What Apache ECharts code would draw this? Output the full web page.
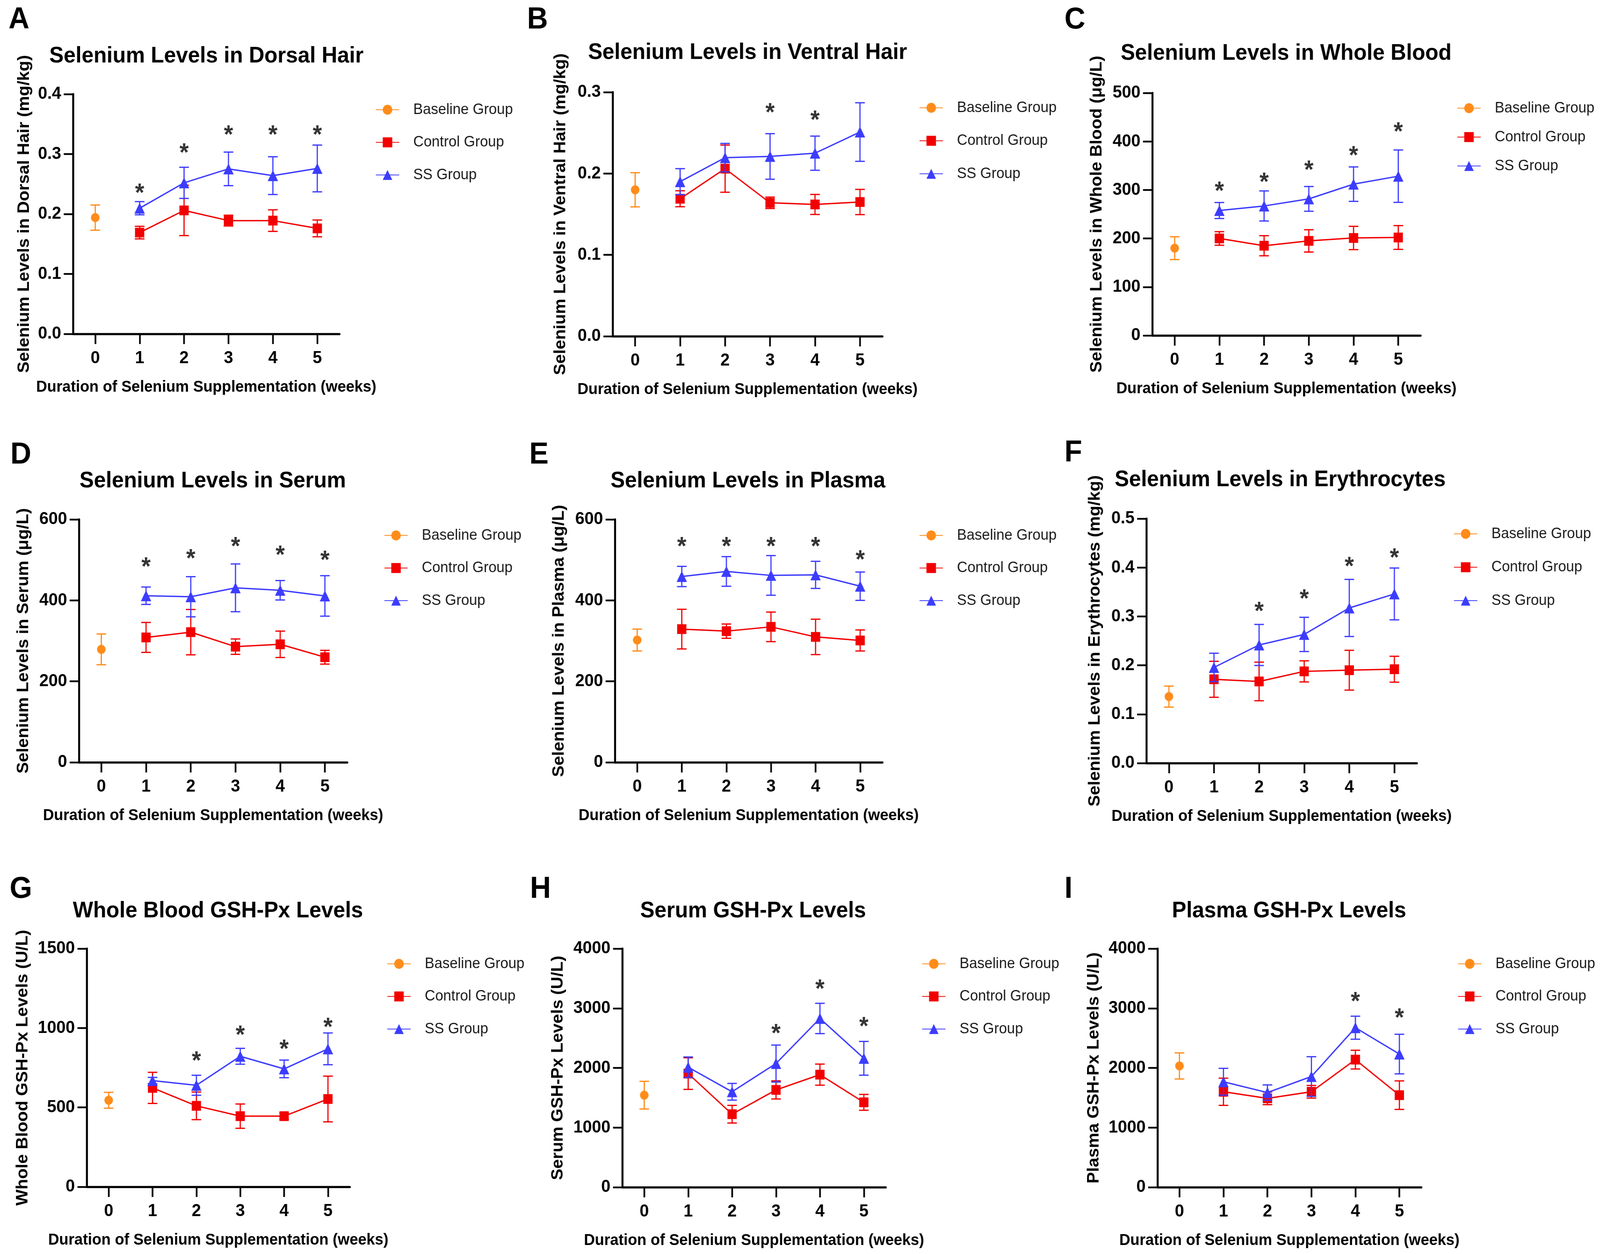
<!DOCTYPE html>
<html><head><meta charset="utf-8">
<script src="https://cdn.jsdelivr.net/npm/echarts@6/dist/echarts.min.js"></script>
<style>
html,body{margin:0;padding:0;background:#fff;overflow:hidden}
#c{width:4317px;height:3211px;transform-origin:0 0}
</style>
</head><body><div id="c"></div>
<script>
// ---------------- DATA ----------------
const weeks = ['0', '1', '2', '3', '4', '5'];
const groupNames = ['Baseline Group', 'Control Group', 'SS Group'];
const panelLetters = ['A', 'B', 'C', 'D', 'E', 'F', 'G', 'H', 'I'];
const panelTitles = [
  'Selenium Levels in Dorsal Hair', 'Selenium Levels in Ventral Hair', 'Selenium Levels in Whole Blood',
  'Selenium Levels in Serum', 'Selenium Levels in Plasma', 'Selenium Levels in Erythrocytes',
  'Whole Blood GSH-Px Levels', 'Serum GSH-Px Levels', 'Plasma GSH-Px Levels'
];
const yAxisTitles = [
  'Selenium Levels in Dorsal Hair (mg/kg)', 'Selenium Levels in Ventral Hair (mg/kg)', 'Selenium Levels in Whole Blood (μg/L)',
  'Selenium Levels in Serum (μg/L)', 'Selenium Levels in Plasma (μg/L)', 'Selenium Levels in Erythrocytes (mg/kg)',
  'Whole Blood GSH-Px Levels (U/L)', 'Serum GSH-Px Levels (U/L)', 'Plasma GSH-Px Levels (U/L)'
];
const xAxisTitle = 'Duration of Selenium Supplementation (weeks)';
const yMax = [0.4, 0.3, 500, 600, 600, 0.5, 1500, 4000, 4000];
const yStep = [0.1, 0.1, 100, 200, 200, 0.1, 500, 1000, 1000];
const yDecimals = [1, 1, 0, 0, 0, 1, 0, 0, 0];

const baselineMean = [0.194, 0.180, 180, 279, 302, 0.136, 545, 1543, 2033];
const baselineSD = [0.021, 0.021, 23.5, 38, 27, 0.0215, 50, 232, 219];

const controlMean = [
  [0.169, 0.206, 0.189, 0.189, 0.176],
  [0.169, 0.206, 0.164, 0.162, 0.165],
  [200, 185, 195, 201, 202],
  [308.5, 321.5, 285.7, 291.5, 259.6],
  [329, 324, 334.6, 309.8, 301],
  [0.1714, 0.167, 0.1876, 0.190, 0.192],
  [623, 510, 445, 445, 553],
  [1905, 1224, 1631, 1887, 1423],
  [1600, 1490, 1600, 2139, 1543]
];
const controlSD = [
  [0.0105, 0.042, 0.009, 0.018, 0.014],
  [0.0098, 0.029, 0.007, 0.0123, 0.0155],
  [14, 20.7, 23, 24, 24.5],
  [37, 56, 19, 32.6, 17],
  [49, 17.6, 36.5, 43.7, 26],
  [0.0368, 0.0395, 0.0216, 0.0407, 0.0265],
  [98, 87, 76.5, 20, 144],
  [265, 148, 152, 177, 133],
  [228, 106, 106, 157, 239]
];
const ssMean = [
  [0.2097, 0.252, 0.2753, 0.264, 0.276],
  [0.190, 0.2195, 0.221, 0.225, 0.251],
  [257.6, 267, 281.6, 312, 328.4],
  [411.5, 409, 431, 425, 411],
  [459, 471.5, 461.7, 463, 435],
  [0.1957, 0.2416, 0.2632, 0.3173, 0.346],
  [669, 639.5, 822, 742.5, 868.8],
  [2011, 1600, 2073, 2829, 2161],
  [1768, 1587, 1856, 2674, 2232]
];
const ssSD = [
  [0.011, 0.026, 0.028, 0.0315, 0.039],
  [0.016, 0.0175, 0.028, 0.021, 0.036],
  [16.5, 31, 25.5, 35.5, 54],
  [21.5, 49.6, 59, 24, 50],
  [25, 36.6, 49, 33.5, 35],
  [0.029, 0.042, 0.035, 0.0584, 0.053],
  [20, 63, 50, 55.6, 100],
  [172, 140, 310, 254, 283],
  [225, 128, 332, 193, 332]
];
// significance markers: [week index, y value]
const starMarks = [
  [[1, 0.245], [2, 0.312], [3, 0.342], [4, 0.342], [5, 0.342]],
  [[3, 0.282], [4, 0.273], [5, 0.309]],
  [[1, 310], [2, 328], [3, 353], [4, 383], [5, 432]],
  [[1, 497], [2, 518], [3, 548], [4, 526], [5, 514]],
  [[1, 548], [2, 548], [3, 548], [4, 548], [5, 515]],
  [[2, 0.322], [3, 0.348], [4, 0.414], [5, 0.432]],
  [[2, 830], [3, 992], [4, 905], [5, 1042]],
  [[3, 2674], [4, 3421], [5, 2793]],
  [[4, 3213], [5, 2939]]
];

// ---------------- LAYOUT / STYLE ----------------
// The drawing is laid out on a 4317 x 3211 canvas; if the viewport is a different size,
// the whole canvas is scaled to fill it.
const PAGE_W = 4317, PAGE_H = 3211;
(function fitToViewport() {
  const sx = window.innerWidth / PAGE_W, sy = window.innerHeight / PAGE_H;
  if (Math.abs(sx - 1) > 0.001 || Math.abs(sy - 1) > 0.001) {
    document.getElementById('c').style.transform = 'scale(' + sx + ',' + sy + ')';
  }
})();

const FONT = "'Liberation Sans', Arial, Helvetica, sans-serif";
const COLORS = ['#FF8C1A', '#F20000', '#3C3CFF'];
const SYMBOLS = ['circle', 'rect', 'triangle'];
const SYMBOL_SIZES = [23, 25, 28];
const layout = [
  { grid: [197, 241, 719, 614], letter: [23, 51], title: [557, 144], legend: [1013, 281, 83.5], yGap: 109 },
  { grid: [1653, 236, 728, 625], letter: [1422, 51], title: [2017, 135], legend: [2480, 276, 84.5], yGap: 118 },
  { grid: [3109, 238, 724, 621], letter: [2872, 51], title: [3470, 137], legend: [3931, 277, 74], yGap: 127 },
  { grid: [213, 1330, 724, 622], letter: [28, 1165], title: [574, 1232], legend: [1036, 1371, 83.5], yGap: 127 },
  { grid: [1659, 1330, 722, 622], letter: [1428, 1165], title: [2018, 1232], legend: [2480, 1371, 83.5], yGap: 128 },
  { grid: [3093, 1328, 730, 626], letter: [2872, 1160], title: [3454, 1229], legend: [3922, 1367, 85.5], yGap: 116 },
  { grid: [234, 2429, 710, 610], letter: [26, 2277], title: [588, 2333], legend: [1044, 2468, 83.5], yGap: 150 },
  { grid: [1679, 2429, 711, 611], letter: [1430, 2277], title: [2032, 2333], legend: [2487, 2468, 83.5], yGap: 151 },
  { grid: [3123, 2429, 712, 611], letter: [2872, 2277], title: [3478, 2333], legend: [3933, 2468, 83.5], yGap: 149 }
];

function errRender(color) {
  return function (params, api) {
    const x = api.value(0), lo = api.value(1), hi = api.value(2);
    const pLo = api.coord([x, lo]), pHi = api.coord([x, hi]);
    const half = 13;
    const style = { stroke: color, lineWidth: 3.2, fill: null };
    return {
      type: 'group', children: [
        { type: 'line', shape: { x1: pLo[0], y1: pLo[1], x2: pHi[0], y2: pHi[1] }, style: style },
        { type: 'line', shape: { x1: pHi[0] - half, y1: pHi[1], x2: pHi[0] + half, y2: pHi[1] }, style: style },
        { type: 'line', shape: { x1: pLo[0] - half, y1: pLo[1], x2: pLo[0] + half, y2: pLo[1] }, style: style }
      ]
    };
  };
}

const grids = [], xAxes = [], yAxes = [], legends = [], series = [], graphics = [];
layout.forEach((L, i) => {
  const [gl, gt, gw, gh] = L.grid;
  grids.push({ left: gl, top: gt, width: gw, height: gh, containLabel: false });
  xAxes.push({
    type: 'category', gridIndex: i, data: weeks, boundaryGap: true,
    axisLine: { show: true, lineStyle: { color: '#000', width: 5.3 } },
    axisTick: { show: true, alignWithLabel: true, length: 26, lineStyle: { color: '#000', width: 4.5 } },
    axisLabel: { fontSize: 45, fontWeight: 'bold', color: '#000', fontFamily: FONT, margin: 40 },
    splitLine: { show: false },
    name: xAxisTitle, nameLocation: 'middle', nameGap: 116,
    nameTextStyle: { fontSize: 41, fontWeight: 'bold', color: '#000', fontFamily: FONT }
  });
  yAxes.push({
    type: 'value', gridIndex: i, min: 0, max: yMax[i], interval: yStep[i],
    axisLine: { show: true, lineStyle: { color: '#000', width: 5.3 } },
    axisTick: { show: true, length: 25, lineStyle: { color: '#000', width: 4.5 } },
    axisLabel: {
      fontSize: 45, fontWeight: 'bold', color: '#000', fontFamily: FONT, margin: 32,
      formatter: (v) => v.toFixed(yDecimals[i])
    },
    splitLine: { show: false },
    name: yAxisTitles[i], nameLocation: 'middle', nameGap: L.yGap,
    nameTextStyle: { fontSize: 44, fontWeight: 'bold', color: '#000', fontFamily: FONT }
  });
  const [lx, ly, lsp] = L.legend;
  legends.push({
    orient: 'vertical', left: lx, top: ly - 19.5, padding: 0,
    itemWidth: 63, itemHeight: 32, itemGap: lsp - 39,
    data: groupNames, selectedMode: false,
    textStyle: { fontSize: 39, fontFamily: FONT, color: '#1a1a1a', padding: [0, 0, 0, 33] }
  });

  const groups = [
    { mean: weeks.map((w, k) => (k === 0 ? baselineMean[i] : null)), sd: weeks.map((w, k) => (k === 0 ? baselineSD[i] : null)) },
    { mean: [null].concat(controlMean[i]), sd: [null].concat(controlSD[i]) },
    { mean: [null].concat(ssMean[i]), sd: [null].concat(ssSD[i]) }
  ];
  groups.forEach((g, gi) => {
    const errData = [];
    g.mean.forEach((m, k) => { if (m != null) errData.push([k, m - g.sd[k], m + g.sd[k]]); });
    series.push({
      type: 'custom', name: groupNames[gi] + ' SD', xAxisIndex: i, yAxisIndex: i,
      renderItem: errRender(COLORS[gi]), data: errData, encode: { x: 0, y: [1, 2] },
      z: 2 + gi * 2, silent: true
    });
    series.push({
      type: 'line', name: groupNames[gi], xAxisIndex: i, yAxisIndex: i,
      data: g.mean, connectNulls: false,
      symbol: SYMBOLS[gi], symbolSize: SYMBOL_SIZES[gi], showAllSymbol: true,
      itemStyle: { color: COLORS[gi] },
      lineStyle: { color: COLORS[gi], width: 3.5 },
      z: 3 + gi * 2, animation: false
    });
  });
  series.push({
    type: 'scatter', name: 'significance', xAxisIndex: i, yAxisIndex: i,
    data: starMarks[i], symbolSize: 1, itemStyle: { color: 'rgba(0,0,0,0)' },
    label: {
      show: true, formatter: '*', position: 'inside', offset: [0, 18],
      fontSize: 64, fontWeight: 'bold', color: '#000', fontFamily: FONT
    },
    z: 10, silent: true
  });

  graphics.push({
    type: 'text', x: L.letter[0], y: L.letter[1],
    style: { text: panelLetters[i], fontSize: 78, fontWeight: 'bold', fontFamily: FONT, fill: '#000', align: 'left', verticalAlign: 'middle' }
  });
  graphics.push({
    type: 'text', x: L.title[0], y: L.title[1],
    style: { text: panelTitles[i], fontSize: 58, fontWeight: 'bold', fontFamily: FONT, fill: '#000', align: 'center', verticalAlign: 'middle' }
  });
});

const chart = echarts.init(document.getElementById('c'), null, { renderer: 'canvas', width: PAGE_W, height: PAGE_H });
chart.setOption({
  backgroundColor: '#fff',
  animation: false,
  grid: grids, xAxis: xAxes, yAxis: yAxes, legend: legends, series: series,
  graphic: graphics
});
</script></body></html>
